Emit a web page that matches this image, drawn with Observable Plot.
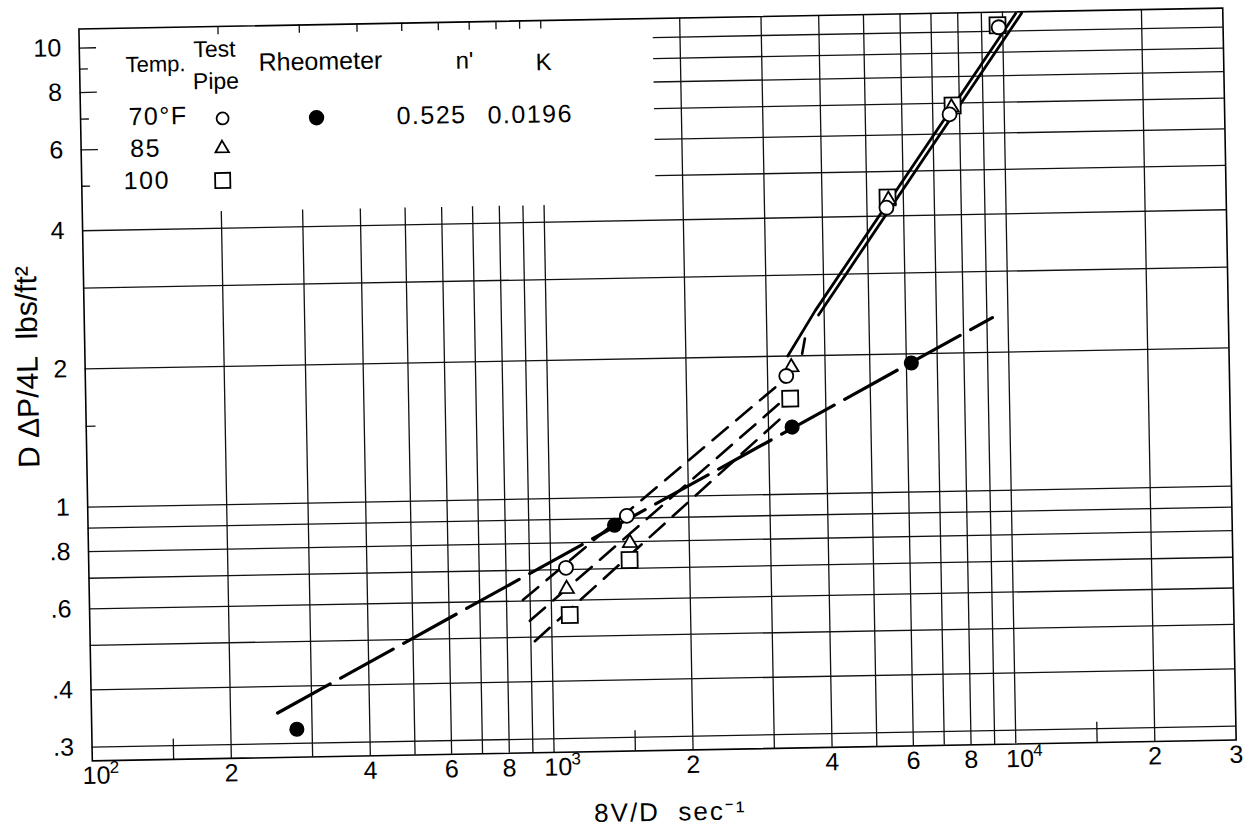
<!DOCTYPE html>
<html><head><meta charset="utf-8">
<script src="https://cdn.jsdelivr.net/npm/d3@7"></script>
<script src="https://cdn.jsdelivr.net/npm/@observablehq/plot@0.6"></script>
<style>
html,body{margin:0;padding:0;background:#fff;}
#chart{width:1252px;height:835px;overflow:hidden;background:#fff;}
</style></head><body><div id="chart"></div>
<script>
// ---- axis ticks ----
const xTickValues = [100, 200, 400, 600, 800, 1000, 2000, 4000, 6000, 8000, 10000, 20000, 30000];
const xTickLabels = ["10", "2", "4", "6", "8", "10", "2", "4", "6", "8", "10", "2", "3"];
const xTickExponents = ["2", "", "", "", "", "3", "", "", "", "", "4", "", ""];
const yTickValues = [0.3, 0.4, 0.6, 0.8, 1, 2, 4, 6, 8, 10];
const yTickLabels = [".3", ".4", ".6", ".8", "1", "2", "4", "6", "8", "10"];
const xGridValues = [200, 300, 400, 500, 600, 700, 800, 900, 1000, 2000, 3000, 4000, 5000, 6000, 7000, 8000, 9000, 10000, 20000];
const yGridValues = [0.3, 0.4, 0.5, 0.6, 0.7, 0.8, 0.9, 1, 2, 3, 4, 5, 6, 7, 8, 9, 10];
const xHalfTicks = [150, 1500, 15000];

// ---- rheometer (filled dots) ----
const rheoX = [278, 1380, 3375, 6150];
const rheoY = [0.322, 0.87, 1.40, 1.91];
const rheoLineX = [253, 9250];
const rheoLineY = [0.35, 2.38];
const rheoN = "0.525";
const rheoK = "0.0196";

// ---- test pipe (open symbols) ----
const pipe70X = [1079, 1469, 3293, 5510, 7612, 9800];
const pipe70Y = [0.706, 0.911, 1.81, 4.17, 6.62, 10.2];
const pipe85X = [1081, 1488, 3380, 5570, 7690];
const pipe85Y = [0.635, 0.795, 1.89, 4.34, 6.85];
const pipe100X = [1095, 1483, 3352, 5546, 7735, 9750];
const pipe100Y = [0.557, 0.73, 1.615, 4.39, 6.92, 10.3];

// laminar (dashed) lines, one per temperature
const lam70X = [868, 3145];  const lam70Y = [0.603, 1.725];
const lam85X = [897, 3227];  const lam85Y = [0.543, 1.60];
const lam100X = [918, 3293]; const lam100Y = [0.49, 1.505];
// short transition dash
const transX = [3572, 3626]; const transY = [2.02, 2.18];

// turbulent (solid double) lines
const turbAX = [3324, 3828, 10690]; const turbAY = [2.0, 2.505, 10.92];
const turbBX = [3890, 11000];       const turbBY = [2.45, 10.92];

const legendTemps = ["70°F", "85", "100"];

// domain / legend-blank limits
const xDomain = [100, 30000];
const yDomain = [0.28, 11];
const legendGridBottom = 4.35;  // vertical rules in legend area stop here
const legendGridRight = 1750;   // horizontal rules >= 5 start here

const pts = (xs, ys) => xs.map((x, i) => ({x, y: ys[i]}));
const xTicks = xTickValues.map((v, i) => ({v, label: xTickLabels[i], exp: xTickExponents[i]}));
const yTicks = yTickValues.map((v, i) => ({v, label: yTickLabels[i]}));

const font = "Liberation Sans, Arial, Helvetica, sans-serif";
const gridStroke = "#111";
const gw = 1.3;

const legendText = (text, dx, dy, size, anchor = "start") =>
  Plot.text([text], {text: d => d, frameAnchor: "top-left", dx, dy, fontSize: size, textAnchor: anchor, lineAnchor: "middle", fill: "black"});
const legendSym = (symbol, dx, dy, r, fill) =>
  Plot.dot([0], {frameAnchor: "top-left", dx, dy, symbol, r, fill, stroke: "black", strokeWidth: 1.8});

const chart = Plot.plot({
  width: 1252, height: 835,
  marginLeft: 85, marginRight: 23, marginTop: 18, marginBottom: 85,
  x: {type: "log", domain: xDomain, axis: null},
  y: {type: "log", domain: yDomain, axis: null},
  style: {fontFamily: font, background: "white", color: "black"},
  marks: [
    // grid
    Plot.ruleX(xGridValues, {x: d => d, y1: yDomain[0], y2: d => d <= 1000 ? legendGridBottom : yDomain[1], stroke: gridStroke, strokeWidth: gw}),
    Plot.ruleX(xGridValues.filter(d => d <= 1000), {x: d => d, y1: yDomain[1], y2: 10.55, stroke: gridStroke, strokeWidth: gw}),
    Plot.ruleY(yGridValues, {y: d => d, x1: d => d >= 5 ? legendGridRight : xDomain[0], x2: xDomain[1], stroke: gridStroke, strokeWidth: gw}),
    Plot.ruleY(yGridValues.filter(d => d >= 5), {y: d => d, x1: xDomain[0], x2: d => (Math.round(d) % 2 === 0 ? 109 : 104.5), stroke: gridStroke, strokeWidth: gw}),
    Plot.ruleY([1.5], {y: d => d, x1: xDomain[0], x2: 105, stroke: gridStroke, strokeWidth: gw}),
    Plot.ruleX(xHalfTicks, {x: d => d, y1: yDomain[0], y2: 0.31, stroke: gridStroke, strokeWidth: gw}),
    Plot.frame({stroke: "black", strokeWidth: 1.6}),

    // lines
    Plot.line(pts(rheoLineX, rheoLineY), {x: "x", y: "y", stroke: "black", strokeWidth: 3.2, strokeDasharray: "60,12"}),
    Plot.line(pts(lam70X, lam70Y), {x: "x", y: "y", stroke: "black", strokeWidth: 2.6, strokeDasharray: "20,11"}),
    Plot.line(pts(lam85X, lam85Y), {x: "x", y: "y", stroke: "black", strokeWidth: 2.6, strokeDasharray: "20,11"}),
    Plot.line(pts(lam100X, lam100Y), {x: "x", y: "y", stroke: "black", strokeWidth: 2.6, strokeDasharray: "20,11"}),
    Plot.line(pts(transX, transY), {x: "x", y: "y", stroke: "black", strokeWidth: 2.6}),
    Plot.line(pts(turbAX, turbAY), {x: "x", y: "y", stroke: "black", strokeWidth: 2.8}),
    Plot.line(pts(turbBX, turbBY), {x: "x", y: "y", stroke: "black", strokeWidth: 2.8}),

    // points
    Plot.dot(pts(pipe100X, pipe100Y), {x: "x", y: "y", symbol: "square", r: 9, fill: "white", stroke: "black", strokeWidth: 1.8}),
    Plot.dot(pts(pipe85X, pipe85Y), {x: "x", y: "y", symbol: "triangle", r: 5.3, fill: "white", stroke: "black", strokeWidth: 1.8}),
    Plot.dot(pts(pipe70X, pipe70Y), {x: "x", y: "y", symbol: "circle", r: 7, fill: "white", stroke: "black", strokeWidth: 1.8}),
    Plot.dot(pts(rheoX, rheoY), {x: "x", y: "y", symbol: "circle", r: 6.8, fill: "black", stroke: "black"}),

    // tick labels
    Plot.text(xTicks.filter(d => !d.exp), {x: "v", text: "label", frameAnchor: "bottom", dy: 15, fontSize: 25, lineAnchor: "middle"}),
    Plot.text(xTicks.filter(d => d.exp), {x: "v", text: "label", frameAnchor: "bottom", dy: 15, dx: 4, fontSize: 25, lineAnchor: "middle"}),
    Plot.text(xTicks.filter(d => d.exp), {x: "v", text: "exp", frameAnchor: "bottom", dy: 7, dx: 22, fontSize: 17, lineAnchor: "middle"}),
    Plot.text(yTicks, {y: "v", text: "label", frameAnchor: "left", dx: -18, fontSize: 25, textAnchor: "end", lineAnchor: "middle"}),
    // axis titles
    Plot.text(["8V/D\u00a0\u00a0sec⁻¹"], {text: d => d, frameAnchor: "bottom", dx: 5, dy: 62, fontSize: 26, textAnchor: "middle", lineAnchor: "middle"}),
    Plot.text(["D\u00a0ΔP/4L\u00a0\u00a0lbs/ft²"], {text: d => d, frameAnchor: "left", dx: -57, dy: -29, rotate: -90, fontSize: 30, textAnchor: "middle", lineAnchor: "middle"}),

    // legend
    legendText("Temp.", 46, 37, 22),
    legendText("Test", 114, 23, 23),
    legendText("Pipe", 113, 55, 23),
    legendText("Rheometer", 179, 37, 25),
    legendText("n'", 376, 39, 24),
    legendText("K", 456, 42, 24),
    legendText(legendTemps[0], 48, 89, 25),
    legendText(legendTemps[1], 49, 121, 25),
    legendText(legendTemps[2], 42, 153, 25),
    legendText(rheoN, 316, 93, 25),
    legendText(rheoK, 407, 94, 25),
    legendSym("circle", 142, 92, 6, "white"),
    legendSym("triangle", 141, 122, 5, "white"),
    legendSym("square", 141, 154, 8.5, "white"),
    legendSym("circle", 236, 93, 6.8, "black")
  ]
});
// spacing tweaks for the wide original lettering
d3.select(chart).selectAll("text").each(function() {
  const t = this.textContent;
  if (t.startsWith("8V")) this.style.letterSpacing = "2px";
  else if (t === rheoN || t === rheoK || legendTemps.includes(t)) this.style.letterSpacing = "1.5px";
});
// the scanned original is tilted by about one degree
chart.style.transformOrigin = "657px 383px";
chart.style.transform = "rotate(-1.05deg)";
document.getElementById("chart").append(chart);
</script>
</body></html>
